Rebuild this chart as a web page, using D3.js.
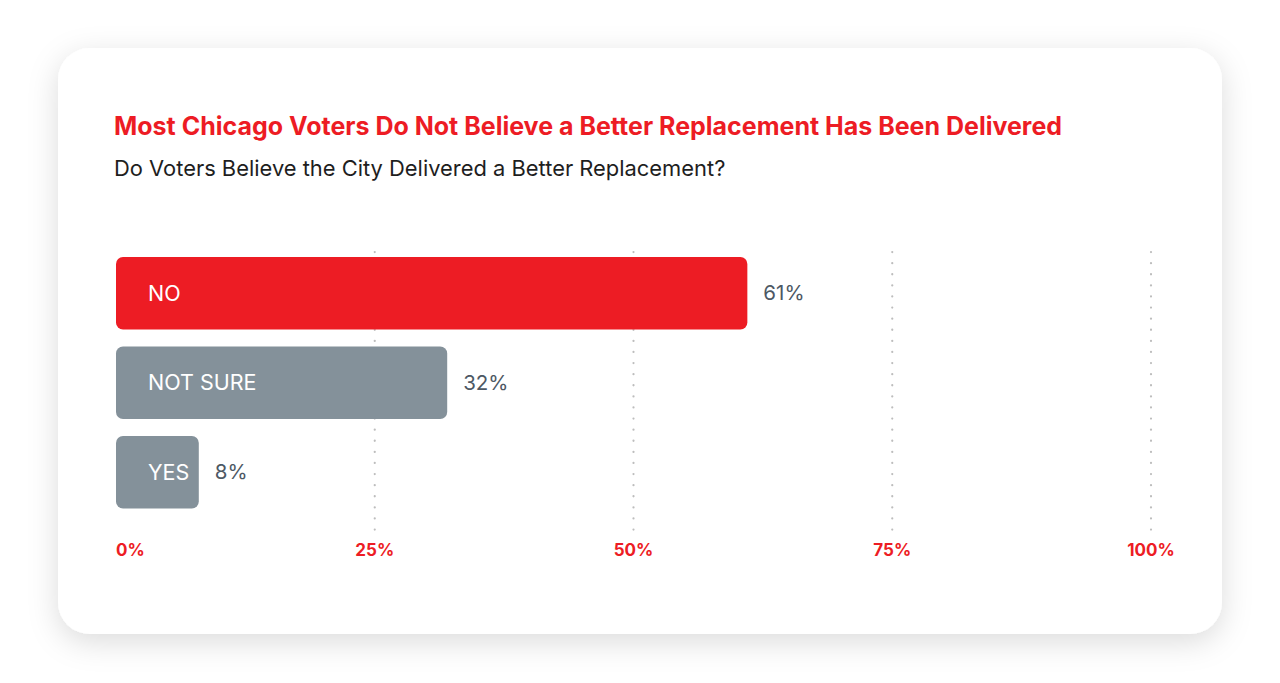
<!DOCTYPE html>
<html>
<head>
<meta charset="utf-8">
<script src="https://d3js.org/d3.v7.min.js"></script>
<style>
  html, body {margin: 0; padding: 0; background: #fff;}
  body {font-family: Inter, "Noto Sans", sans-serif;}
  .tick-label {font: 700 17px Inter, sans-serif; fill: #ed1c24;}
</style>
</head>
<body>
<svg id="chart" width="1280" height="683"></svg>
<script>
// data
var categories = ["NO", "NOT SURE", "YES"];
var values = [61, 32, 8];
var barColors = ["#ed1c24", "#84919a", "#84919a"];
var tickValues = [0, 25, 50, 75, 100];

var svg = d3.select("#chart");

// card with soft shadow
var defs = svg.append("defs");
var f = defs.append("filter").attr("id", "shadow")
    .attr("x", "-10%").attr("y", "-10%").attr("width", "120%").attr("height", "130%");
f.append("feDropShadow")
    .attr("dx", 0).attr("dy", 8)
    .attr("stdDeviation", 15)
    .attr("flood-color", "#000").attr("flood-opacity", 0.14);

svg.append("rect")
    .attr("x", 58).attr("y", 48)
    .attr("width", 1164).attr("height", 586)
    .attr("rx", 32)
    .attr("fill", "#fff")
    .attr("filter", "url(#shadow)");

// titles
svg.append("text")
    .attr("x", 114).attr("y", 135)
    .attr("font-size", 25).attr("font-weight", 700)
    .attr("fill", "#ed1c24")
    .text("Most Chicago Voters Do Not Believe a Better Replacement Has Been Delivered");

svg.append("text")
    .attr("x", 114).attr("y", 176)
    .attr("font-size", 21.9)
    .attr("fill", "#1e1e1e")
    .text("Do Voters Believe the City Delivered a Better Replacement?");

// scales
var x = d3.scaleLinear().domain([0, 100]).range([116, 1151]);
var y = d3.scaleBand().domain(categories).range([257, 508.5]).paddingInner(0.19);

// dotted grid lines
svg.append("g")
    .selectAll("line")
    .data(tickValues.slice(1))
    .enter().append("line")
    .attr("x1", function(d) { return x(d); })
    .attr("x2", function(d) { return x(d); })
    .attr("y1", 252).attr("y2", 531)
    .attr("stroke", "#bdbdbd")
    .attr("stroke-width", 2.2)
    .attr("stroke-linecap", "round")
    .attr("stroke-dasharray", "0.1 11");

// bars
var bars = svg.append("g")
    .selectAll("g")
    .data(categories)
    .enter().append("g");

bars.append("rect")
    .attr("x", x(0))
    .attr("y", function(d) { return y(d); })
    .attr("width", function(d, i) { return x(values[i]) - x(0); })
    .attr("height", y.bandwidth())
    .attr("rx", 7)
    .attr("fill", function(d, i) { return barColors[i]; });

bars.append("text")
    .attr("x", x(0) + 32)
    .attr("y", function(d) { return y(d) + y.bandwidth() / 2; })
    .attr("dy", "0.35em")
    .attr("font-size", 21.5)
    .attr("fill", "#fff")
    .text(function(d) { return d; });

bars.append("text")
    .attr("x", function(d, i) { return x(values[i]) + 16; })
    .attr("y", function(d) { return y(d) + y.bandwidth() / 2; })
    .attr("dy", "0.35em")
    .attr("font-size", 20.5)
    .attr("fill", "#4d5864")
    .text(function(d, i) { return values[i] + "%"; });

// axis labels
svg.append("g")
    .selectAll("text")
    .data(tickValues)
    .enter().append("text")
    .attr("class", "tick-label")
    .attr("x", function(d) { return x(d); })
    .attr("y", 556)
    .attr("text-anchor", function(d) { return d === 0 ? "start" : "middle"; })
    .text(function(d) { return d + "%"; });
</script>
</body>
</html>
